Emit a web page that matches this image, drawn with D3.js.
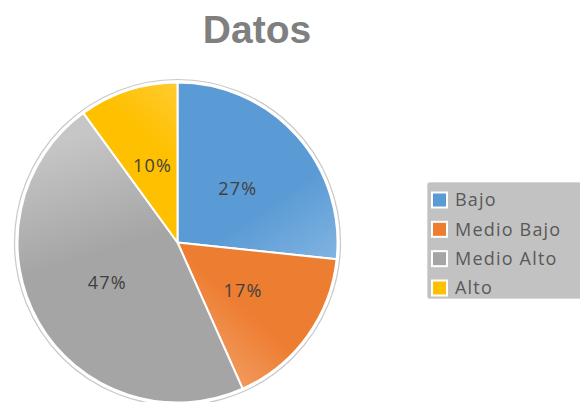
<!DOCTYPE html>
<html>
<head>
<meta charset="utf-8">
<script src="https://cdn.jsdelivr.net/npm/d3@7/dist/d3.min.js"></script>
<style>
  html, body { margin: 0; padding: 0; background: #fff; }
  svg { display: block; }
</style>
</head>
<body>
<svg id="chart" width="580" height="402"></svg>
<script>
// Survey data: number of responses per level
const title = "Datos";
const categories = ["Bajo", "Medio Bajo", "Medio Alto", "Alto"];
const counts = [8, 5, 14, 3];
const baseColors = ["#5b9bd5", "#ed7d31", "#a5a5a5", "#ffc000"];
const lightColors = ["#84b5e3", "#f29c60", "#c6c6c6", "#ffca2c"];

const svg = d3.select("#chart");
const width = 580, height = 402;

const cx = 177.5, cy = 242.5, R = 160;
const labelR = 81;

// Title
svg.append("text")
  .attr("x", 257)
  .attr("y", 43)
  .attr("text-anchor", "middle")
  .attr("font-family", "Liberation Sans, Arial, sans-serif")
  .attr("font-weight", "bold")
  .attr("font-size", 39)
  .attr("fill", "#7f7f7f")
  .text(title);

// Per-slice gradients (direction in pie coordinates)
const gradDirs = [
  [[40, -130], [150, 30]],     // Bajo: lighter toward lower right
  [[150, 30], [50, 140]],      // Medio Bajo: lighter toward lower left
  [[-40, 150], [-120, -100]],  // Medio Alto: lighter toward upper left
  [[-80, -60], [0, -150]]      // Alto
];
const defs = svg.append("defs");
categories.forEach((c, i) => {
  const g = defs.append("linearGradient")
    .attr("id", "grad" + i)
    .attr("gradientUnits", "userSpaceOnUse")
    .attr("x1", gradDirs[i][0][0]).attr("y1", gradDirs[i][0][1])
    .attr("x2", gradDirs[i][1][0]).attr("y2", gradDirs[i][1][1]);
  g.append("stop").attr("offset", "0%").attr("stop-color", baseColors[i]);
  g.append("stop").attr("offset", "55%").attr("stop-color", baseColors[i]);
  g.append("stop").attr("offset", "100%").attr("stop-color", lightColors[i]);
});

const total = d3.sum(counts);
const pie = d3.pie().sort(null).value(d => d)
  .startAngle(0).endAngle(2 * Math.PI);
const arcs = pie(counts);
const arc = d3.arc().innerRadius(0).outerRadius(R);
const labelArc = d3.arc().innerRadius(labelR).outerRadius(labelR);

const g = svg.append("g").attr("transform", `translate(${cx},${cy})`);

// Thin outer ring around the pie
g.append("circle")
  .attr("r", R + 3)
  .attr("fill", "none")
  .attr("stroke", "#c9c9c9")
  .attr("stroke-width", 1.2);

g.selectAll("path.slice")
  .data(arcs)
  .join("path")
  .attr("class", "slice")
  .attr("d", arc)
  .attr("fill", (d, i) => `url(#grad${i})`)
  .attr("stroke", "#ffffff")
  .attr("stroke-width", 2)
  .attr("stroke-linejoin", "round");

// Percentage labels
g.selectAll("text.pct")
  .data(arcs)
  .join("text")
  .attr("class", "pct")
  .attr("transform", d => `translate(${labelArc.centroid(d)})`)
  .attr("text-anchor", "middle")
  .attr("dy", "0.36em")
  .attr("font-family", "Open Sans, sans-serif")
  .attr("font-size", 18)
  .attr("letter-spacing", 1.2)
  .attr("fill", "#404040")
  .text(d => Math.round(d.data / total * 100) + "%");

// Legend
const legend = svg.append("g");
legend.append("rect")
  .attr("x", 427.5).attr("y", 182.5)
  .attr("width", 170).attr("height", 116)
  .attr("rx", 2)
  .attr("fill", "#c2c2c2")
  .attr("stroke", "#d6d6d6")
  .attr("stroke-width", 1);

const rowY = d3.scalePoint().domain(categories).range([200, 288]);

const items = legend.selectAll("g.item")
  .data(categories)
  .join("g")
  .attr("class", "item")
  .attr("transform", d => `translate(0,${rowY(d)})`);

items.append("rect")
  .attr("x", 432).attr("y", -7.5)
  .attr("width", 15).attr("height", 15)
  .attr("fill", (d, i) => baseColors[i])
  .attr("stroke", "#ffffff")
  .attr("stroke-width", 2);

items.append("text")
  .attr("x", 455)
  .attr("dy", "0.36em")
  .attr("font-family", "Open Sans, sans-serif")
  .attr("font-size", 18)
  .attr("letter-spacing", 1.2)
  .attr("fill", "#595959")
  .text(d => d);
</script>
</body>
</html>
